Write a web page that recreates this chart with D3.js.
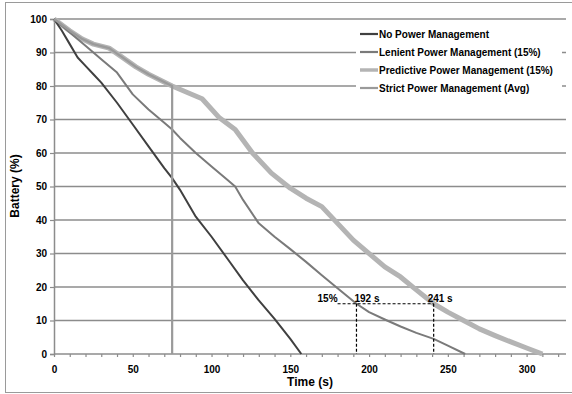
<!DOCTYPE html>
<html><head><meta charset="utf-8">
<script src="https://cdn.jsdelivr.net/npm/d3@7"></script>
<style>body{margin:0;background:#fff}svg{display:block;font-family:"Liberation Sans",Arial,sans-serif}</style>
</head><body><svg id="c" width="572" height="394"></svg>
<script>
const seriesNames = ["No Power Management","Lenient Power Management (15%)","Predictive Power Management (15%)","Strict Power Management (Avg)"];
const noPM = [[0,100],[5,96.5],[10,92.5],[15,88.5],[20,86],[25,83.5],[30,81],[40,75],[50,68.5],[60,62],[70,55.5],[75,52.5],[80,49],[90,41],[100,35],[110,28.5],[120,22],[130,16],[140,10.5],[150,4.5],[157,0]];
const lenient = [[0,100],[10,96],[20,92],[30,88],[40,84],[50,77.5],[60,73],[70,69],[75,67],[80,64.5],[90,60],[100,56],[110,52],[115,50],[120,46],[130,39],[140,35],[150,31.3],[160,27.5],[170,23.5],[180,19.6],[192,15],[200,12.5],[210,10.3],[220,8.2],[230,6.3],[241,4.5],[250,2.5],[261,0]];
const predictive = [[0,100],[10,96.5],[18,94],[25,92.5],[35,91.3],[43,88.7],[52,85.7],[60,83.5],[75,80],[85,78],[94,76.2],[105,70.5],[115,67],[126,60],[138,54],[150,49.5],[160,46.5],[170,44],[180,39],[190,34],[201,29.6],[210,26],[220,23],[229,19.5],[241,15],[250,12.5],[260,10],[270,7.5],[280,5.5],[290,3.6],[300,1.8],[310,0]];
const strict = [[0,100],[10,96.5],[18,94],[25,92.5],[35,91.3],[43,88.7],[52,85.7],[60,83.5],[75,80],[75,0]];
const yTicks = [0,10,20,30,40,50,60,70,80,90,100];
const xLabels = [0,50,100,150,200,250,300];
const xMinor = d3.range(0,321,10);
const annot = {pct:15, t1:192, t2:241, tStart:180};

const svg = d3.select("#c");
const L=54,R=566,T=19,B=354;
const x = d3.scaleLinear().domain([0,325]).range([L,R]);
const y = d3.scaleLinear().domain([0,100]).range([B,T]);

// outer frame
svg.append("rect").attr("x",5.5).attr("y",2.5).attr("width",600).attr("height",390).attr("fill","none").attr("stroke","#9a9a9a").attr("stroke-width",1);

// gridlines
svg.append("g").selectAll("line").data(yTicks.filter(d=>d>0)).join("line")
  .attr("x1",L).attr("x2",R).attr("y1",d=>y(d)).attr("y2",d=>y(d))
  .attr("stroke","#8c8c8c").attr("stroke-width",1.5);

// y axis
const ya = svg.append("g").attr("transform",`translate(${L},0)`)
  .call(d3.axisLeft(y).tickValues(yTicks).tickSize(4).tickPadding(3));
ya.select(".domain").attr("stroke","#8c8c8c").attr("stroke-width",1.5);
ya.selectAll(".tick line").attr("stroke","#8c8c8c").attr("stroke-width",1.2);
ya.selectAll("text").attr("font-size",10).attr("font-weight","bold").attr("fill","#000").attr("font-family","Liberation Sans, Arial, sans-serif");

// x axis
const xa = svg.append("g").attr("transform",`translate(0,${B})`)
  .call(d3.axisBottom(x).tickValues(xMinor).tickSize(3).tickFormat(""));
xa.select(".domain").attr("stroke","#8c8c8c").attr("stroke-width",1.5).attr("d",`M${L},0H${R}`);
xa.selectAll(".tick line").attr("stroke","#8c8c8c").attr("stroke-width",1.2);
const xl = svg.append("g").attr("transform",`translate(0,${B})`)
  .call(d3.axisBottom(x).tickValues(xLabels).tickSize(0).tickPadding(12));
xl.select(".domain").remove();
xl.selectAll("text").attr("font-size",10).attr("font-weight","bold").attr("fill","#000").attr("font-family","Liberation Sans, Arial, sans-serif");

// axis titles
svg.append("text").attr("x",(L+R)/2).attr("y",386).attr("text-anchor","middle").attr("font-size",12).attr("font-weight","bold").text("Time (s)");
svg.append("text").attr("transform","translate(19,186) rotate(-90)").attr("text-anchor","middle").attr("font-size",12).attr("font-weight","bold").text("Battery (%)");

const line = d3.line().x(d=>x(d[0])).y(d=>y(d[1]));
const styles = [
  {data:noPM,color:"#404040",w:2},
  {data:lenient,color:"#7a7a7a",w:2},
  {data:predictive,color:"#b4b4b4",w:5},
  {data:strict,color:"#9a9a9a",w:2.2}
];
[2,1,0,3].forEach(i=>{
  svg.append("path").attr("d",line(styles[i].data)).attr("fill","none")
   .attr("stroke",styles[i].color).attr("stroke-width",styles[i].w).attr("stroke-linejoin","round");
});

// annotation dotted lines
const dash = "3,2";
svg.append("line").attr("x1",x(annot.tStart)).attr("x2",x(annot.t2)).attr("y1",y(annot.pct)).attr("y2",y(annot.pct)).attr("stroke","#000").attr("stroke-width",1.2).attr("stroke-dasharray",dash);
[annot.t1,annot.t2].forEach(t=>{
  svg.append("line").attr("x1",x(t)).attr("x2",x(t)).attr("y1",y(annot.pct)).attr("y2",y(0)).attr("stroke","#000").attr("stroke-width",1.2).attr("stroke-dasharray",dash);
});
svg.append("text").attr("x",x(annot.tStart)).attr("y",y(annot.pct)-2).attr("text-anchor","end").attr("font-size",10).attr("font-weight","bold").text(annot.pct+"%");
svg.append("text").attr("x",x(annot.t1)-2).attr("y",y(annot.pct)-2).attr("font-size",10).attr("font-weight","bold").text(annot.t1+" s");
svg.append("text").attr("x",x(annot.t2)-6).attr("y",y(annot.pct)-2).attr("font-size",10).attr("font-weight","bold").text(annot.t2+" s");

// legend
const lg = svg.append("g");
lg.append("rect").attr("x",356).attr("y",25).attr("width",206).attr("height",72).attr("fill","#fff");
seriesNames.forEach((n,i)=>{
  const yy = 34 + i*18;
  lg.append("line").attr("x1",360).attr("x2",378).attr("y1",yy).attr("y2",yy)
    .attr("stroke",styles[i].color).attr("stroke-width",i===2?3.5:2.2);
  lg.append("text").attr("x",379).attr("y",yy+3.5).attr("font-size",10).attr("font-weight","bold").text(n);
});
</script></body></html>
